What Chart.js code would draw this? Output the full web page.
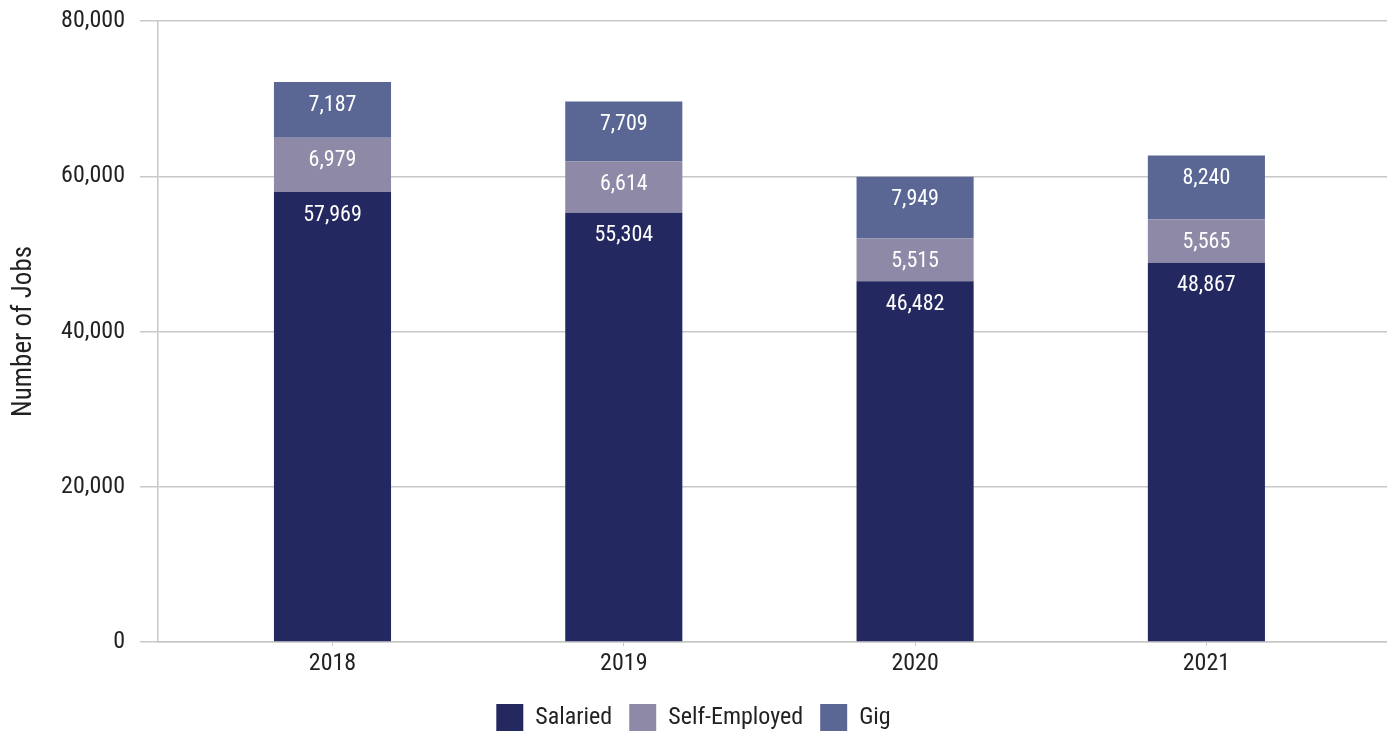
<!DOCTYPE html>
<html>
<head>
<meta charset="utf-8">
<script src="https://cdn.jsdelivr.net/npm/chart.js@4/dist/chart.umd.min.js"></script>
<style>
  html, body { margin: 0; padding: 0; background: #fff; }
  #wrap { width: 1387px; height: 734px; position: relative; }
</style>
</head>
<body>
<div id="wrap"><canvas id="jobs"></canvas></div>
<script>
// Jobs by type, stacked per year
const years = ['2018', '2019', '2020', '2021'];
const salaried = [57969, 55304, 46482, 48867];
const selfEmployed = [6979, 6614, 5515, 5565];
const gig = [7187, 7709, 7949, 8240];
const yTicks = [0, 20000, 40000, 60000, 80000];

const FONT = '"Roboto Condensed", Roboto, sans-serif';
const INK = '#222222';
const GRID = '#c8c8c8';

const toPoints = arr => arr.map((v, i) => ({ x: i, y: v }));
const fmt = v => Number(v).toLocaleString('en-US');

// white value label near the top of each segment
const segmentLabels = {
    id: 'segmentLabels',
    afterDatasetsDraw(chart) {
        const ctx = chart.ctx;
        ctx.save();
        ctx.fillStyle = '#ffffff';
        ctx.font = '22px ' + FONT;
        ctx.textAlign = 'center';
        ctx.textBaseline = 'middle';
        chart.data.datasets.forEach((ds, di) => {
            chart.getDatasetMeta(di).data.forEach((bar, i) => {
                ctx.fillText(fmt(ds.data[i].y), bar.x, bar.y + 23);
            });
        });
        ctx.restore();
    }
};

// keep tick-label overflow from pushing the plot area around
const noEdgePadding = s => {
    s.paddingTop = 0;
    s.paddingBottom = 0;
    s.paddingLeft = 0;
    s.paddingRight = 0;
};

new Chart(document.getElementById('jobs'), {
    type: 'bar',
    data: {
        datasets: [
            { label: 'Salaried', data: toPoints(salaried), backgroundColor: '#242860' },
            { label: 'Self-Employed', data: toPoints(selfEmployed), backgroundColor: '#8e89a6' },
            { label: 'Gig', data: toPoints(gig), backgroundColor: '#5a6794' },
        ]
    },
    options: {
        responsive: true,
        maintainAspectRatio: false,
        animation: false,
        categoryPercentage: 1,
        barPercentage: 0.402,
        layout: { padding: { top: 21, right: 0, left: 0, bottom: -7 } },
        plugins: {
            tooltip: { enabled: false },
            legend: {
                position: 'bottom',
                labels: {
                    color: INK,
                    font: { family: FONT, size: 24 },
                    boxWidth: 27,
                    boxHeight: 27,
                    padding: 17,
                }
            }
        },
        scales: {
            x: {
                type: 'linear',
                stacked: true,
                offset: false,
                min: -0.599,
                max: 3.62,
                afterBuildTicks: s => { s.ticks = years.map((_, i) => ({ value: i })); },
                afterFit: s => { s.height = 45; noEdgePadding(s); },
                grid: { offset: false, drawOnChartArea: false, color: GRID, tickLength: 4, lineWidth: 1 },
                border: { color: GRID, width: 1.5 },
                ticks: {
                    color: INK,
                    font: { family: FONT, size: 24 },
                    padding: 4,
                    maxRotation: 0,
                    callback: v => years[v] ?? ''
                }
            },
            y: {
                stacked: true,
                min: 0,
                max: 80000,
                afterBuildTicks: s => { s.ticks = yTicks.map(v => ({ value: v })); },
                afterFit: s => { s.width = 158; noEdgePadding(s); },
                grid: { color: GRID, lineWidth: 1.5, tickLength: 18 },
                border: { color: GRID, width: 1.5 },
                ticks: {
                    color: INK,
                    font: { family: FONT, size: 24 },
                    padding: 15,
                    callback: v => fmt(v)
                },
                title: {
                    display: true,
                    text: 'Number of Jobs',
                    color: INK,
                    font: { family: FONT, size: 27 },
                    padding: { top: 8, bottom: 0 }
                }
            }
        }
    },
    plugins: [segmentLabels]
});
</script>
</body>
</html>
